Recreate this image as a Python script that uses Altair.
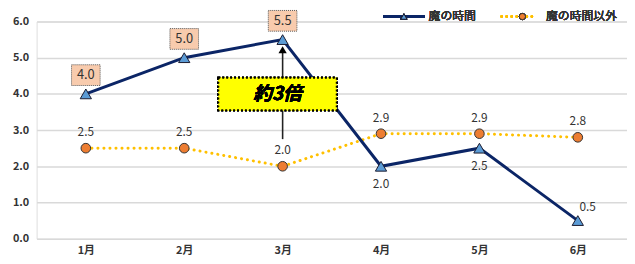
import altair as alt
import pandas as pd

months = ["1月", "2月", "3月", "4月", "5月", "6月"]
ma_values = [4.0, 5.0, 5.5, 2.0, 2.5, 0.5]
other_values = [2.5, 2.5, 2.0, 2.9, 2.9, 2.8]
series_names = ["魔の時間", "魔の時間以外"]
boxed_months = ["1月", "2月", "3月"]
below_months = ["4月", "5月"]
above_right_months = ["6月"]
arrow_month = ["3月"]
arrow_from = [2.75]
arrow_to = [5.22]
annotation_text = "約3倍"
y_ticks = [0, 1, 2, 3, 4, 5, 6]

df = pd.DataFrame({"month": months, "ma": ma_values, "other": other_values})
arrow_df = pd.DataFrame({"month": arrow_month, "y1": arrow_from, "y2": arrow_to})

FONT = "Noto Sans CJK JP"
NAVY = "#0b2566"
TRI_FILL = "#5b9bd5"
ORANGE = "#ed7d31"
GOLD = "#ffc000"

xscale = alt.Scale(type="point", padding=0.5)
xaxis = alt.Axis(title=None, labelAngle=0, domain=False, ticks=False,
                 labelFont=FONT, labelFontSize=11, labelFontWeight="bold",
                 labelColor="#333333", labelPadding=6)
yscale = alt.Scale(domain=[0, 6])
yaxis = alt.Axis(title=None, values=y_ticks, format=".1f", domain=False,
                 ticks=False, gridColor="#d9d9d9", gridWidth=1.5, labelFont=FONT,
                 labelFontSize=11, labelFontWeight="bold", labelColor="#333333", labelPadding=8,
                 labelOverlap=False, labelBound=False)


def X():
    return alt.X("month:O", sort=months, scale=xscale, axis=xaxis)


def Y(field):
    return alt.Y(field, scale=yscale, axis=yaxis)


base = alt.Chart(df).encode(x=X())

ma_line = base.mark_line(color=NAVY, strokeWidth=3).encode(y=Y("ma:Q"))
other_line = base.mark_line(color=GOLD, strokeWidth=3, strokeDash=[0.1, 6], strokeCap="round").encode(y=Y("other:Q"))
ma_pts = base.mark_point(shape="triangle-up", filled=True, fill=TRI_FILL, stroke="#1a1a2e", strokeWidth=1, size=130, opacity=1).encode(y=Y("ma:Q"))
other_pts = base.mark_point(shape="circle", filled=True, fill=ORANGE, stroke="#333333", strokeWidth=1, size=95, opacity=1).encode(y=Y("other:Q"))

other_lbl = base.mark_text(dy=-16, font=FONT, fontSize=12, color="#333333").encode(
    y=Y("other:Q"), text=alt.Text("other:Q", format=".1f"))

boxed = base.transform_filter(alt.FieldOneOfPredicate(field="month", oneOf=boxed_months))
box_bg = boxed.mark_point(shape="M-1.38,-1H1.38V1H-1.38Z", filled=False, fill="#f8cbad", fillOpacity=1,
                          stroke="#555555", strokeWidth=1, strokeDash=[1, 1], size=441, yOffset=-19, opacity=1).encode(
    y=Y("ma:Q"))
box_txt = boxed.mark_text(dy=-19, font=FONT, fontSize=13, color="#333333").encode(
    y=Y("ma:Q"), text=alt.Text("ma:Q", format=".1f"))
below_txt = base.transform_filter(alt.FieldOneOfPredicate(field="month", oneOf=below_months)).mark_text(
    dy=18, font=FONT, fontSize=12, color="#333333").encode(
    y=Y("ma:Q"), text=alt.Text("ma:Q", format=".1f"))
ar_txt = base.transform_filter(alt.FieldOneOfPredicate(field="month", oneOf=above_right_months)).mark_text(
    dy=-14, dx=10, font=FONT, fontSize=12, color="#333333").encode(
    y=Y("ma:Q"), text=alt.Text("ma:Q", format=".1f"))

arrow_base = alt.Chart(arrow_df).encode(x=X())
arrow_line = arrow_base.mark_rule(color="#222222", strokeWidth=1.6).encode(
    y=Y("y1:Q"), y2="y2:Q")
arrow_head = arrow_base.mark_point(shape="triangle-up", filled=True, color="#000000", size=70, opacity=1).encode(
    y=Y("y2:Q"))

note_box = alt.Chart(df).mark_rect(fill="#ffff00", stroke="#000000", strokeWidth=2, strokeDash=[2, 2]).encode(
    x=alt.value(184), x2=alt.value(304), y=alt.value(57), y2=alt.value(90))
note_txt = alt.Chart(df).mark_text(text=annotation_text, font=FONT, fontSize=19, fontStyle="italic",
                                   fontWeight="bold", color="#000000").encode(x=alt.value(244), y=alt.value(74))

# legend
LY = -5
leg_line1 = alt.Chart(df).mark_rule(color=NAVY, strokeWidth=3).encode(x=alt.value(351), x2=alt.value(393), y=alt.value(LY))
leg_pt1 = alt.Chart(df).mark_point(shape="triangle-up", filled=True, fill=TRI_FILL, stroke="#1a1a2e", strokeWidth=1, size=40, opacity=1).encode(x=alt.value(372), y=alt.value(LY))
leg_txt1 = alt.Chart(df).mark_text(text=series_names[0], align="left", font=FONT, fontSize=12, fontWeight="normal", color="#333333").encode(x=alt.value(397), y=alt.value(LY))
leg_line2 = alt.Chart(df).mark_rule(color=GOLD, strokeWidth=2.5, strokeDash=[0.1, 5], strokeCap="round").encode(x=alt.value(471), x2=alt.value(503), y=alt.value(LY))
leg_pt2 = alt.Chart(df).mark_point(shape="circle", filled=True, fill=ORANGE, stroke="#333333", strokeWidth=1, size=40, opacity=1).encode(x=alt.value(492), y=alt.value(LY))
leg_txt2 = alt.Chart(df).mark_text(text=series_names[1], align="left", font=FONT, fontSize=12, fontWeight="normal", color="#333333").encode(x=alt.value(516), y=alt.value(LY))

chart = alt.layer(
    other_line, ma_line, arrow_line, arrow_head, note_box, note_txt,
    other_pts, ma_pts, other_lbl, box_bg, box_txt, below_txt, ar_txt,
    leg_line1, leg_pt1, leg_txt1, leg_line2, leg_pt2, leg_txt2,
).properties(
    width=598, height=220,
    autosize=alt.AutoSizeParams(type="none"),
    padding={"left": 29, "top": 12, "right": 0, "bottom": 24},
).configure_view(stroke=None).configure(background="white")

chart.save("out.html", embed_options={"renderer": "svg", "actions": False})
